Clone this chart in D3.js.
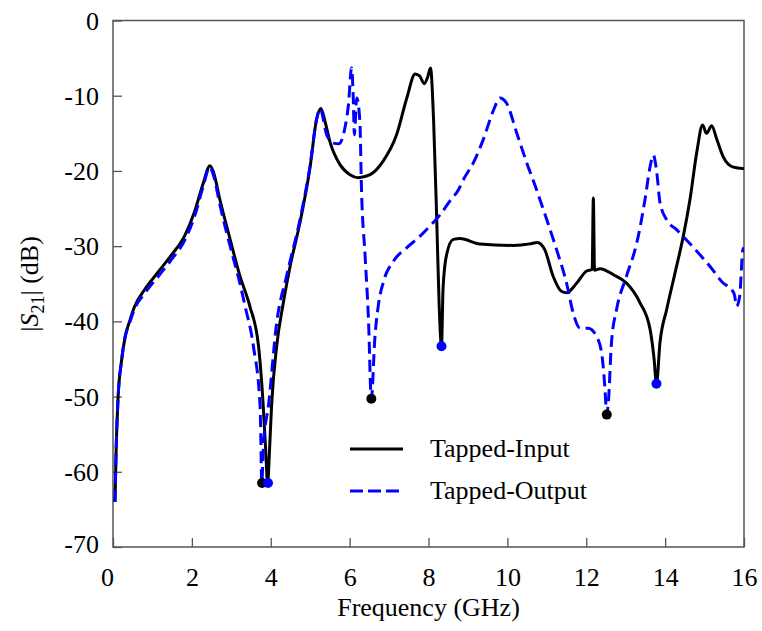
<!DOCTYPE html>
<html><head><meta charset="utf-8">
<script src="https://cdn.jsdelivr.net/npm/d3@7"></script>
<style>body{margin:0;background:#fff}svg{display:block}
svg text{font-family:"Liberation Serif","DejaVu Serif","Times New Roman",serif;}</style>
</head><body><svg id="c" width="762" height="631"></svg>
<script>
const xTicks=[0,2,4,6,8,10,12,14,16];
const yTicks=[0,-10,-20,-30,-40,-50,-60,-70];
const seriesNames=["Tapped-Input","Tapped-Output"];
const inputFreq=[0.05,0.08,0.13,0.21,0.31,0.42,0.55,0.8,1.15,1.48,1.82,2.07,2.29,2.46,2.55,2.71,2.97,3.22,3.47,3.69,3.81,3.87,3.92,3.97,4.02,4.15,4.32,4.49,4.74,5.0,5.16,5.27,5.38,5.5,5.76,6.01,6.22,6.52,6.85,7.19,7.45,7.66,7.78,7.89,7.98,8.05,8.13,8.21,8.27,8.33,8.37,8.46,8.63,8.8,9.3,10.15,10.57,10.76,10.95,11.16,11.37,11.5,11.76,12.01,12.15,12.18,12.21,12.35,12.69,13.02,13.36,13.62,13.72,13.78,13.87,14.04,14.29,14.46,14.63,14.8,14.95,15.05,15.18,15.31,15.47,15.73,16.0];
const inputDb=[-64,-57,-50,-45.5,-42,-40,-38,-35.8,-33.4,-31.2,-28.6,-25.4,-21.6,-19.3,-20.2,-23.8,-29.1,-34,-38,-43.3,-51.3,-57,-61.5,-57,-51.3,-43.3,-37.5,-32.7,-26.9,-19.4,-13.2,-11.7,-13.5,-16.1,-19.2,-20.5,-20.9,-20.5,-18.7,-15.2,-10.3,-7.1,-7.4,-8.4,-7.5,-6.3,-13.4,-26.7,-37.8,-43.3,-35.5,-31.1,-29.1,-29.0,-29.7,-29.9,-29.7,-29.5,-30.5,-34,-36,-36.2,-34.9,-33.3,-33.1,-23.6,-33.2,-33,-33.8,-34.9,-37.5,-41.1,-45,-48.3,-42.8,-38.4,-32.7,-28.7,-23.8,-17.6,-13.9,-15,-14.0,-15.8,-18.1,-19.5,-19.7];
const outputFreq=[0.05,0.08,0.13,0.21,0.31,0.42,0.55,0.8,1.15,1.48,1.82,2.07,2.29,2.45,2.55,2.71,2.97,3.22,3.35,3.56,3.73,3.75,3.77,3.82,3.94,4.15,4.4,4.74,5.0,5.16,5.25,5.42,5.59,5.72,5.88,5.97,6.05,6.09,6.12,6.18,6.26,6.3,6.39,6.48,6.55,6.64,6.73,6.86,7.11,7.45,7.78,8.04,8.3,8.54,8.76,8.88,9.14,9.39,9.65,9.81,9.98,10.24,10.49,10.74,11.0,11.25,11.5,11.67,11.84,12.05,12.26,12.39,12.47,12.52,12.56,12.64,12.77,13.02,13.28,13.49,13.62,13.7,13.79,13.87,14.04,14.29,14.72,15.14,15.47,15.69,15.76,15.81,15.89,15.97,16.0];
const outputDb=[-64,-57,-50,-45.5,-42,-40.2,-38.3,-36.3,-34,-31.8,-29.2,-26,-22,-19.5,-20.6,-24.5,-30,-35,-38,-43.3,-51.3,-56,-61.5,-56,-51.3,-40.2,-34,-26.5,-19.2,-13.2,-11.7,-15.2,-16.3,-16.4,-14.3,-11.2,-6.3,-9.9,-15.2,-10.3,-13.4,-22.3,-31.1,-40,-50.3,-42.2,-37.8,-34.7,-32,-30.2,-28.7,-27.3,-25.8,-24,-22.5,-21.2,-18.9,-15.8,-11.9,-10.3,-11,-15,-18.9,-22.5,-26.5,-30.5,-34.9,-38.9,-40.9,-40.9,-42,-44.2,-48.6,-52.4,-50.8,-42.8,-38.4,-34,-29.6,-23.8,-19.4,-17.9,-20.3,-24.2,-26.5,-27.8,-30.2,-32.7,-34.9,-35.8,-36.5,-38,-36.7,-30.5,-30.2];
// minima markers: black dots mark Tapped-Output minima, blue dots mark Tapped-Input minima
const outputMinFreq=[3.78,6.55,12.52];
const outputMinDb=[-61.5,-50.3,-52.4];
const inputMinFreq=[3.93,8.33,13.78];
const inputMinDb=[-61.5,-43.3,-48.3];

const svg=d3.select("#c");
const L=113,R=744,T=20.5,B=547;
const x=d3.scaleLinear().domain([0,16]).range([L,R]);
const y=d3.scaleLinear().domain([-70,0]).range([B,T]);
const axisCol="#555";

svg.append("defs").append("clipPath").attr("id","clip").append("rect")
  .attr("x",L).attr("y",T).attr("width",R-L).attr("height",B-T);

svg.append("rect").attr("x",L).attr("y",T).attr("width",R-L).attr("height",B-T)
  .attr("fill","none").attr("stroke",axisCol).attr("stroke-width",1.5);

const xAxis=d3.axisBottom(x).tickValues(xTicks).tickSizeInner(-9).tickSizeOuter(0).tickPadding(14).tickFormat(d3.format("d"));
const gx=svg.append("g").attr("transform",`translate(0,${B})`).call(xAxis);
const yAxis=d3.axisLeft(y).tickValues(yTicks).tickSizeInner(-9).tickSizeOuter(0).tickPadding(14).tickFormat(d=>d===0?"0":String(d));
const gy=svg.append("g").attr("transform",`translate(${L},0)`).call(yAxis);
[gx,gy].forEach(g=>{
  g.attr("font-family",null);
  g.select(".domain").remove();
  g.selectAll(".tick line").attr("stroke",axisCol).attr("stroke-width",1.3);
  g.selectAll(".tick text").attr("font-size",26).attr("fill","#000");
});
gx.selectAll(".tick text").attr("dy","0.95em");
gy.selectAll(".tick text").attr("dy","0.33em");
gx.selectAll(".tick").filter(d=>d===0).select("text").attr("dx",-6);
gy.selectAll(".tick").filter(d=>d===-70).select("text").attr("dy","0.2em");

svg.append("text").attr("x",(L+R)/2).attr("y",616).attr("text-anchor","middle")
  .attr("font-size",26).text("Frequency (GHz)");
const yt=svg.append("text").attr("transform","translate(38,284) rotate(-90)").attr("text-anchor","middle")
  .attr("font-size",26);
yt.append("tspan").text("|");
yt.append("tspan").attr("font-style","italic").text("S");
yt.append("tspan").attr("font-size",18).attr("dy",6).text("21");
yt.append("tspan").attr("dy",-6).text("| (dB)");

const line=d3.line().x(d=>x(d[0])).y(d=>y(d[1])).curve(d3.curveMonotoneX);
const inputData=inputFreq.map((f,i)=>[f,inputDb[i]]);
const outputData=outputFreq.map((f,i)=>[f,outputDb[i]]);
const plot=svg.append("g").attr("clip-path","url(#clip)");
plot.append("path").datum(inputData).attr("d",line).attr("fill","none")
  .attr("stroke","#000").attr("stroke-width",3).attr("stroke-linejoin","round");
plot.append("path").datum(outputData).attr("d",line).attr("fill","none")
  .attr("stroke","#0000ff").attr("stroke-width",3).attr("stroke-dasharray","12,6");

svg.append("g").selectAll("circle").data(outputMinFreq.map((f,i)=>[f,outputMinDb[i]])).join("circle")
  .attr("cx",d=>x(d[0])).attr("cy",d=>y(d[1])).attr("r",5).attr("fill","#000");
svg.append("g").selectAll("circle").data(inputMinFreq.map((f,i)=>[f,inputMinDb[i]])).join("circle")
  .attr("cx",d=>x(d[0])).attr("cy",d=>y(d[1])).attr("r",5).attr("fill","#0000ff");

const lg=svg.append("g");
const legY=[449,491];
lg.append("line").attr("x1",350).attr("x2",403).attr("y1",legY[0]).attr("y2",legY[0]).attr("stroke","#000").attr("stroke-width",3);
lg.append("line").attr("x1",350).attr("x2",403).attr("y1",legY[1]).attr("y2",legY[1]).attr("stroke","#0000ff").attr("stroke-width",3).attr("stroke-dasharray","13,5");
seriesNames.forEach((n,i)=>{
  lg.append("text").attr("x",430).attr("y",legY[i]+8).attr("font-size",26).text(n);
});
</script></body></html>
